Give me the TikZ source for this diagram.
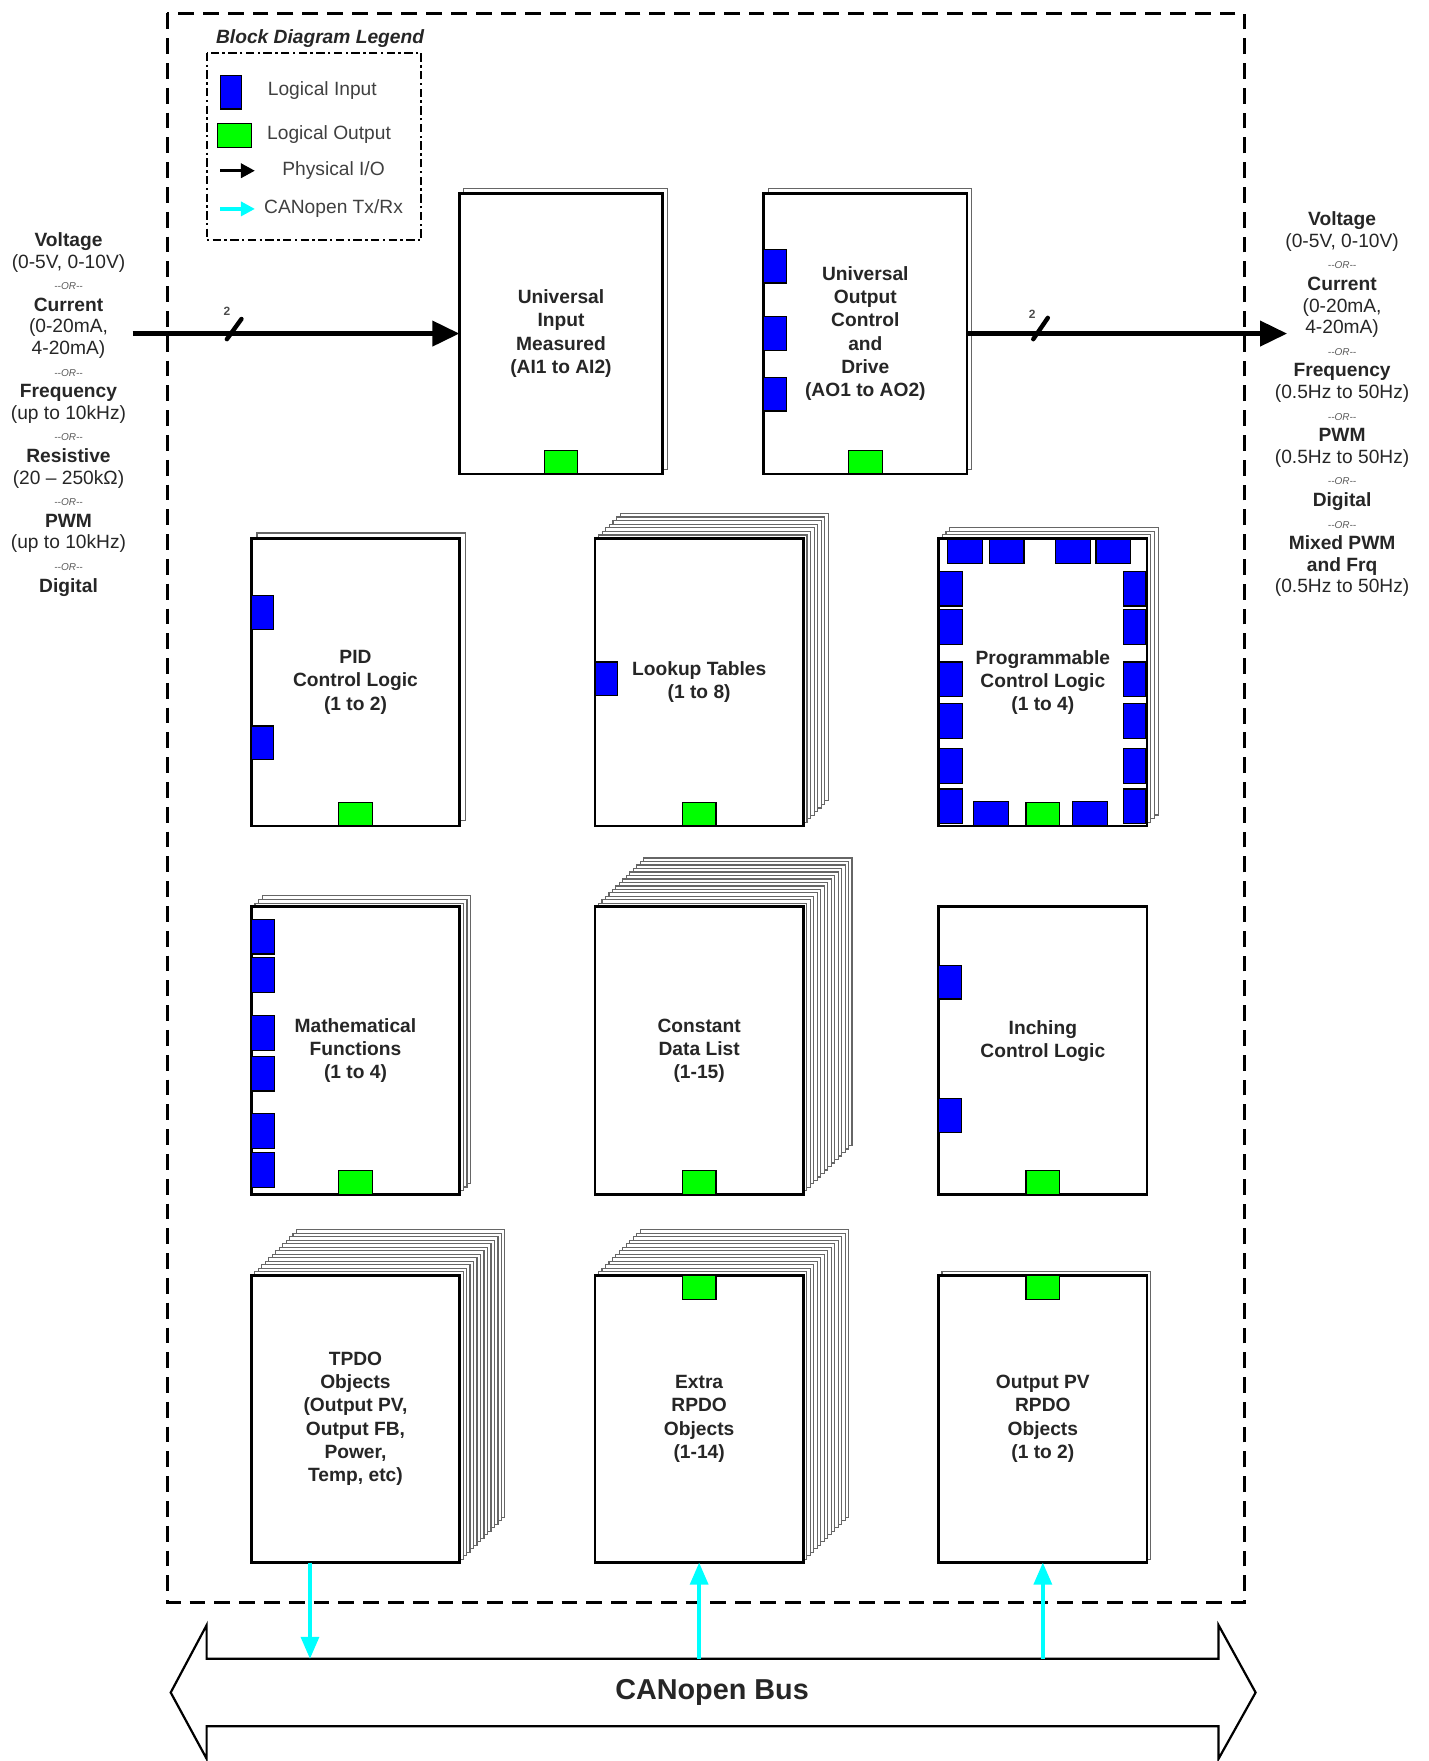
\documentclass[tikz,border=0pt]{standalone}
\usepackage{fontspec}
\setmainfont{Liberation Sans}
\usetikzlibrary{arrows.meta}
\usetikzlibrary{backgrounds}
\usetikzlibrary{positioning}

\newcommand\upx{0.5617pt}
\definecolor{inblue}{RGB}{0,0,255}
\definecolor{outgreen}{RGB}{0,255,0}
\definecolor{cancyan}{RGB}{0,255,255}
\newcommand\orsep{{\fontsize{5}{6}\selectfont\itshape\color{black!65}-{}-OR-{}-}}
\newcommand\pagestack[3]{%
  \begin{scope}[on background layer]
    \foreach \k in {#2,...,1}
      \draw[backpage] ([shift={(#3*\k,-#3*\k)}]#1.south west) rectangle ([shift={(#3*\k,-#3*\k)}]#1.north east);
  \end{scope}}
\newcommand\outbot[1]{\draw[outport] ([shift={(-15,-21)}]#1.south) rectangle ++(30,21);}
\newcommand\outtop[1]{\draw[outport] ([shift={(-15,0)}]#1.north) rectangle ++(30,22);}
\newcommand\inports[2]{\foreach \y in {#2} \draw[inport] ([shift={(0,\y)}]#1.north west) rectangle ++(20,30);}

\tikzset{
  blk/.style={draw, line width=1.4pt, fill=white, outer sep=0pt,
    minimum width=185.5*\upx, minimum height=256*\upx, align=center,
    font=\fontsize{9.6}{11.6}\selectfont\bfseries, text=black!85},
  topblk/.style={blk, minimum width=181*\upx, minimum height=250*\upx},
  backpage/.style={draw=black!60, fill=white, line width=0.6pt},
  inport/.style={draw, fill=inblue, line width=0.6pt},
  outport/.style={draw, fill=outgreen, line width=0.6pt},
  physio/.style={line width=2.36pt, -{Triangle[length=13.5pt,width=12.4pt]}},
  canio/.style={draw=cancyan, line width=1.7pt, -{Triangle[length=11pt,width=9pt,fill=cancyan]}},
  sigtext/.style={align=center, font=\fontsize{9.6}{10.8}\selectfont, text=black!85},
  legtext/.style={font=\fontsize{9.6}{11}\selectfont, text=black!75},
  buswidth/.style={font=\fontsize{6}{7}\selectfont\bfseries, text=black!70}
}

\begin{document}
\begin{tikzpicture}[x=\upx, y=-\upx, node distance=40.4pt and 67.7pt]
  \useasboundingbox (0,0) rectangle (1272,1568);

  \draw[line width=1.4pt, dash pattern=on 7.9pt off 4.5pt] (149,12) rectangle (1108,1427);

  \node[font=\fontsize{9.6}{11}\selectfont\bfseries\itshape, text=black!85] (legtitle) at (285,34) {Block Diagram Legend};
  \draw[line width=1pt, dash pattern=on 4.2pt off 1.7pt on 1.2pt off 1.7pt] (184,47) rectangle (375,214);
  \draw[inport] (196,67) rectangle (215,97);
  \node[legtext] (leglin) at (287,81) {Logical Input};
  \draw[outport] (194,110) rectangle (224,131);
  \node[legtext] (leglout) at (293,120) {Logical Output};
  \draw[line width=1.7pt, -{Triangle[length=7pt,width=7pt]}] (196,152) -- (227,152);
  \node[legtext] (legphys) at (297,152) {Physical I/O};
  \draw[cancyan, line width=1.7pt, -{Triangle[length=7pt,width=7pt]}] (196,186) -- (227,186);
  \node[legtext] (legcan) at (297,186) {CANopen Tx/Rx};

  \node[sigtext] (sigleft) at (61,369) {\textbf{Voltage}\\(0-5V, 0-10V)\\\orsep\\\textbf{Current}\\(0-20mA,\\4-20mA)\\\orsep\\
    \textbf{Frequency}\\(up to 10kHz)\\\orsep\\\textbf{Resistive}\\(20 – 250kΩ)\\\orsep\\\textbf{PWM}\\(up to 10kHz)\\\orsep\\\textbf{Digital}};
  \node[sigtext] (sigright) at (1195,360) {\textbf{Voltage}\\(0-5V, 0-10V)\\\orsep\\\textbf{Current}\\(0-20mA,\\4-20mA)\\\orsep\\
    \textbf{Frequency}\\(0.5Hz to 50Hz)\\\orsep\\\textbf{PWM}\\(0.5Hz to 50Hz)\\\orsep\\\textbf{Digital}\\\orsep\\
    \textbf{Mixed PWM}\\\textbf{and Frq}\\(0.5Hz to 50Hz)};

  \node[topblk] (uim) at (499.5,297) {Universal\\Input\\Measured\\(AI1 to AI2)};
  \pagestack{uim}{1}{4}
  \node[topblk] (uocd) at (770.5,297) {Universal\\Output\\Control\\and\\Drive\\(AO1 to AO2)};
  \pagestack{uocd}{1}{4}

  \node[blk] (pid) at (316.5,607.5) {PID\\Control Logic\\(1 to 2)};
  \pagestack{pid}{1}{5}
  \node[blk, right=of pid] (lut) {Lookup Tables\\(1 to 8)};
  \pagestack{lut}{7}{3.2}
  \node[blk, right=of lut] (pcl) {Programmable\\Control Logic\\(1 to 4)};
  \pagestack{pcl}{3}{3.3}
  \node[blk, below=of pid] (math) {Mathematical\\Functions\\(1 to 4)};
  \pagestack{math}{3}{3.3}
  \node[blk, below=of lut] (cdl) {Constant\\Data List\\(1-15)};
  \pagestack{cdl}{14}{3.1}
  \node[blk, below=of pcl] (inch) {Inching\\Control Logic\\\mbox{}};
  \node[blk, below=of math] (tpdo) {TPDO\\Objects\\(Output PV,\\Output FB,\\Power,\\Temp, etc)};
  \pagestack{tpdo}{13}{3.1}
  \node[blk, below=of cdl] (xrpdo) {Extra\\RPDO\\Objects\\(1-14)};
  \pagestack{xrpdo}{13}{3.1}
  \node[blk, below=of inch] (pvrpdo) {Output PV\\RPDO\\Objects\\(1 to 2)};
  \pagestack{pvrpdo}{1}{3}

  \outbot{uim}
  \inports{uocd}{50,110,164}
  \outbot{uocd}
  \inports{pid}{51,167}
  \outbot{pid}
  \inports{lut}{110}
  \outbot{lut}
  \foreach \y in {29,63,110,147,187,223} {
    \draw[inport] ([shift={(1,\y)}]pcl.north west) rectangle ++(20,31);
    \draw[inport] ([shift={(-21,\y)}]pcl.north east) rectangle ++(20,31);
  }
  \foreach \x in {8,45,104,140}
    \draw[inport] ([shift={(\x,1)}]pcl.north west) rectangle ++(31,21);
  \foreach \x in {31,119}
    \draw[inport] ([shift={(\x,-22)}]pcl.south west) rectangle ++(31,22);
  \outbot{pcl}
  \foreach \y in {11,45,97,133,184,219}
    \draw[inport] ([shift={(0,\y)}]math.north west) rectangle ++(21,31);
  \outbot{math}
  \outbot{cdl}
  \inports{inch}{52,171}
  \outbot{inch}
  \outtop{xrpdo}
  \outtop{pvrpdo}

  \coordinate (sigin) at (118,297);
  \coordinate (sigout) at (1146,297);
  \draw[physio] (sigin) -- (uim.west);
  \draw[physio] (uocd.east) -- (sigout);
  \draw[line width=2.2pt, line cap=round] (202,302) -- (215,284);
  \node[buswidth] (nin) at (202,277) {2};
  \draw[line width=2.2pt, line cap=round] (920,302) -- (933,283);
  \node[buswidth] (nout) at (919,280) {2};

  \draw[line width=1.1pt] (152,1507) -- (184,1447) -- (184,1477) -- (1085,1477) -- (1085,1447) -- (1118,1507)
    -- (1085,1566) -- (1085,1537) -- (184,1537) -- (184,1566) -- cycle;
  \node[font=\fontsize{14.4}{16}\selectfont\bfseries, text=black!85] (busname) at (634,1507) {CANopen Bus};
  \coordinate (bustop) at (0,1477);
  \coordinate (tpdotx) at (276,1477);
  \draw[canio] (tpdo.south -| tpdotx) -- (tpdotx);
  \draw[canio] (xrpdo.south |- bustop) -- (xrpdo.south);
  \draw[canio] (pvrpdo.south |- bustop) -- (pvrpdo.south);
\end{tikzpicture}
\end{document}
